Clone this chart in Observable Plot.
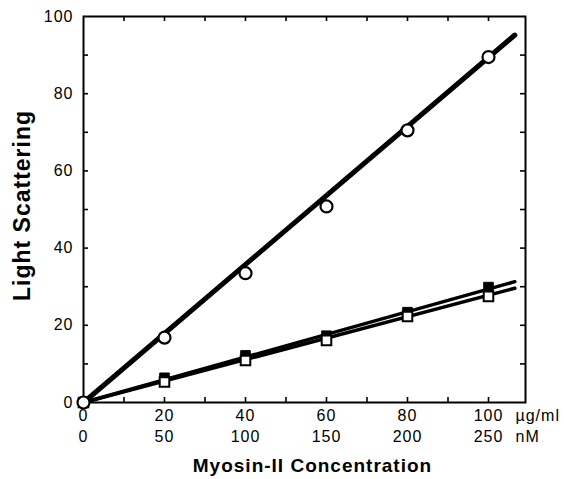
<!DOCTYPE html>
<html>
<head>
<meta charset="utf-8">
<script src="https://cdn.jsdelivr.net/npm/d3@7"></script>
<script src="https://cdn.jsdelivr.net/npm/@observablehq/plot@0.6"></script>
<style>
  body { margin: 0; background: #fff; }
  svg { display: block; }
</style>
</head>
<body>
<div id="chart"></div>
<script>
// ---- data ----
const concUg = [0, 20, 40, 60, 80, 100];          // µg/ml
const concNmLabels = ["0", "50", "100", "150", "200", "250"]; // nM
const circleVals = [0, 16.8, 33.5, 50.8, 70.5, 89.5];
const filledSqVals = [0, 6.4, 12.2, 17.3, 23.4, 29.9];
const openSqVals = [0, 5.3, 10.9, 16.1, 22.3, 27.5];
// fitted straight lines (endpoints)
const fitX = [0, 106.5];
const fitCircle = [0, 95.2];
const fitFilled = [0, 31.3];
const fitOpen = [0, 29.6];
// ticks
const xMinorTicks = [10, 20, 30, 40, 50, 60, 70, 80, 90, 100];
const yMinorTicks = [10, 20, 30, 40, 50, 60, 70, 80, 90];
const xLabelTicks = [0, 20, 40, 60, 80, 100];
const yLabelTicks = [0, 20, 40, 60, 80, 100];

// ---- layout ----
const W = 564, H = 479;
const mL = 83, mR = 39, mT = 16, mB = 77;
const plotW = W - mL - mR, plotH = H - mT - mB;
const tickLen = 5;
const font = "'Liberation Sans', Arial, Helvetica, sans-serif";

const pts = (ys) => concUg.map((x, i) => ({x, y: ys[i]}));
const fit = (ys) => fitX.map((x, i) => ({x, y: ys[i]}));

const chart = Plot.plot({
  width: W,
  height: H,
  marginLeft: mL,
  marginRight: mR,
  marginTop: mT,
  marginBottom: mB,
  style: {fontFamily: font, fontSize: "16px", color: "#000", background: "#fff", letterSpacing: "1px"},
  x: {domain: [0, plotW / 4.05], axis: null},
  y: {domain: [0, 100], axis: null},
  marks: [
    // frame
    Plot.frame({stroke: "#000", strokeWidth: 2}),
    // inward ticks
    Plot.tickY(yMinorTicks, {y: d => d, insetRight: plotW - tickLen, stroke: "#000", strokeWidth: 1.6}),
    Plot.tickY(yMinorTicks, {y: d => d, insetLeft: plotW - tickLen, stroke: "#000", strokeWidth: 1.6}),
    Plot.tickX(xMinorTicks, {x: d => d, insetTop: plotH - tickLen, stroke: "#000", strokeWidth: 1.6}),
    Plot.tickX(xMinorTicks, {x: d => d, insetBottom: plotH - tickLen, stroke: "#000", strokeWidth: 1.6}),
    // tick labels
    Plot.axisY({ticks: yLabelTicks, tickSize: 0, tickPadding: 10, label: null, fontSize: 16}),
    Plot.axisX({ticks: xLabelTicks, tickSize: 0, tickPadding: 7, label: null, fontSize: 16}),
    Plot.axisX({ticks: xLabelTicks, tickSize: 0, tickPadding: 28, label: null, fontSize: 16,
      tickFormat: d => concNmLabels[xLabelTicks.indexOf(d)]}),
    // unit labels
    Plot.text([{x: 100, t: "µg/ml"}], {x: "x", text: "t", frameAnchor: "bottom", dx: 27, dy: 7,
      lineAnchor: "top", textAnchor: "start", fontSize: 16}),
    Plot.text([{x: 100, t: "nM"}], {x: "x", text: "t", frameAnchor: "bottom", dx: 27, dy: 28,
      lineAnchor: "top", textAnchor: "start", fontSize: 16}),
    // axis titles
    Plot.text(["Myosin-II Concentration"], {frameAnchor: "bottom", dx: 8, dy: 63, fontSize: 19,
      fontWeight: "bold", lineAnchor: "middle", textAnchor: "middle"}),
    Plot.text(["Light Scattering"], {frameAnchor: "left", dx: -61, dy: -4, rotate: -90, fontSize: 23,
      fontWeight: "bold", textAnchor: "middle", lineAnchor: "middle", letterSpacing: "2.5px"}),
    // fit lines
    Plot.line(fit(fitOpen), {x: "x", y: "y", stroke: "#000", strokeWidth: 3.5}),
    Plot.line(fit(fitFilled), {x: "x", y: "y", stroke: "#000", strokeWidth: 3.5}),
    Plot.line(fit(fitCircle), {x: "x", y: "y", stroke: "#000", strokeWidth: 5}),
    // markers
    Plot.dot(pts(filledSqVals), {x: "x", y: "y", symbol: "square", r: 5.4, fill: "#000", stroke: "#000", strokeWidth: 1}),
    Plot.dot(pts(openSqVals), {x: "x", y: "y", symbol: "square", r: 5.4, fill: "#fff", stroke: "#000", strokeWidth: 2}),
    Plot.dot(pts(circleVals), {x: "x", y: "y", symbol: "circle", r: 6, fill: "#fff", stroke: "#000", strokeWidth: 2.2})
  ]
});
document.getElementById("chart").appendChild(chart);
</script>
</body>
</html>
